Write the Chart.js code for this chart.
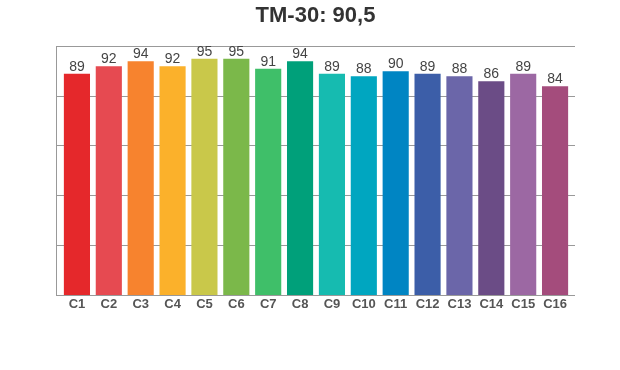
<!DOCTYPE html>
<html>
<head>
<meta charset="utf-8">
<script src="https://cdn.jsdelivr.net/npm/chart.js@4/dist/chart.umd.min.js"></script>
<style>
html,body{margin:0;padding:0;background:#fff;}
#wrap{width:620px;height:370px;}
</style>
</head>
<body>
<div id="wrap"><canvas id="c" width="620" height="370"></canvas></div>
<script>
const categories = ["C1","C2","C3","C4","C5","C6","C7","C8","C9","C10","C11","C12","C13","C14","C15","C16"];
const values = [89,92,94,92,95,95,91,94,89,88,90,89,88,86,89,84];
const barColors = ["#e5282b","#e64a51","#f7832e","#fbb12b","#c9c84a","#7bb84a","#3fbf69","#00a07a","#16bbb0","#00a6c0","#0085c3","#3c5ea8","#6b66a9","#6b4c86","#9c68a3","#a44c7c"];
const titleText = "TM-30: 90,5";
const yMin = 0, yMax = 100, yStep = 20;

const labelPlugin = {
  id: 'valueLabels',
  afterDatasetsDraw(chart) {
    const ctx = chart.ctx;
    const meta = chart.getDatasetMeta(0);
    ctx.save();
    ctx.font = '14px "Liberation Sans", Arial, sans-serif';
    ctx.fillStyle = '#444';
    ctx.textAlign = 'center';
    ctx.textBaseline = 'bottom';
    meta.data.forEach((bar, i) => {
      ctx.fillText(String(values[i]), bar.x, bar.y);
    });
    ctx.restore();
  }
};

const FONT = '"Liberation Sans", Arial, sans-serif';

new Chart(document.getElementById('c'), {
  type: 'bar',
  data: {
    labels: categories,
    datasets: [{
      data: values,
      backgroundColor: barColors,
      borderWidth: 0,
      categoryPercentage: 1.0,
      barPercentage: 0.82
    }]
  },
  options: {
    responsive: false,
    animation: false,
    devicePixelRatio: 1,
    layout: { padding: { left: 56, right: 45, top: 0, bottom: 55 } },
    plugins: {
      legend: { display: false },
      tooltip: { enabled: false },
      title: {
        display: true,
        text: titleText,
        color: '#333',
        font: { family: FONT, size: 22, weight: 'bold' },
        padding: { top: 3, bottom: 17 }
      }
    },
    scales: {
      x: {
        grid: { display: false, drawTicks: false },
        border: { display: false },
        ticks: {
          color: '#555',
          font: { family: FONT, size: 13, weight: 'bold' },
          padding: 2,
          maxRotation: 0,
          autoSkip: false
        },
        afterFit(s) { s.height = 20; }
      },
      yL: {
        type: 'linear',
        position: 'left',
        weight: 1,
        min: yMin, max: yMax,
        ticks: { display: false, stepSize: yStep },
        grid: { display: false },
        border: { display: true, color: '#999', width: 1 },
        afterFit(s) { s.width = 0; }
      },
      y: {
        position: 'left',
        weight: 0,
        min: yMin, max: yMax,
        ticks: { display: false, stepSize: yStep },
        grid: { color: '#999', lineWidth: 1, drawTicks: true, tickLength: 5 },
        border: { display: false },
        afterFit(s) { s.width = 5; }
      },
      yR: {
        type: 'linear',
        position: 'right',
        min: yMin, max: yMax,
        ticks: { display: false, stepSize: yStep },
        grid: { color: '#999', lineWidth: 1, drawOnChartArea: false, drawTicks: true, tickLength: 4 },
        border: { display: false },
        afterFit(s) { s.width = 4; }
      }
    }
  },
  plugins: [labelPlugin]
});
</script>
</body>
</html>
